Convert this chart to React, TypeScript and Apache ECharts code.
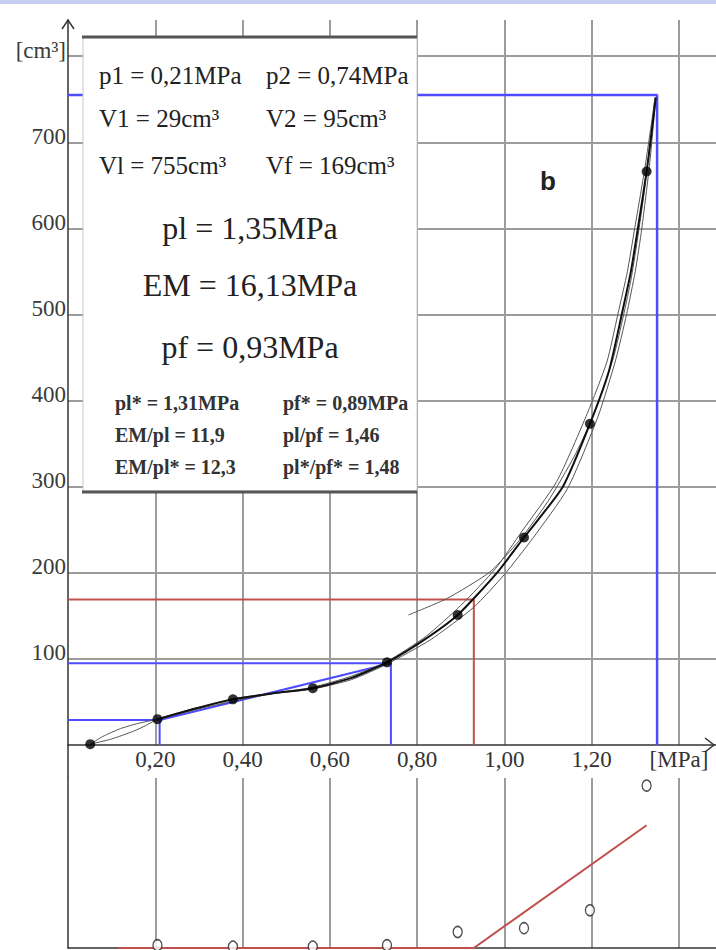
import React, { useEffect, useRef } from "react";
import * as echarts from "echarts";

// ---- Measured pressuremeter data ----
const pressures = [0.051, 0.205, 0.378, 0.561, 0.731, 0.893, 1.045, 1.196, 1.326];
const volumes = [1, 30, 53, 66, 96, 151, 241, 373, 666];

// creep (V60 - V30) for each step from the 2nd point on
const creepPressures = [0.205, 0.378, 0.561, 0.731, 0.893, 1.045, 1.196, 1.326];
const creepValues = [0.3, 0.15, 0.15, 0.3, 1.7, 2.1, 4.0, 17.2];
const creepFit = [[0.115, 0], [0.93, 0], [1.326, 13.0]];

// fitted curves
const mainCurve = [[0.205, 30], [0.29, 42], [0.378, 53], [0.47, 60], [0.561, 66], [0.65, 78], [0.731, 96], [0.81, 120], [0.893, 151], [0.983, 200], [1.045, 241], [1.134, 300], [1.196, 373], [1.24, 435], [1.269, 500], [1.29, 550], [1.306, 600], [1.326, 666], [1.336, 705], [1.347, 752]];
const fitA = [[0.051, 1], [0.08, 10], [0.12, 19], [0.16, 25], [0.205, 30], [0.3, 42], [0.38, 51], [0.47, 60], [0.56, 67], [0.65, 80], [0.731, 97], [0.82, 126], [0.9, 162], [0.98, 205], [1.04, 248], [1.12, 306], [1.19, 385], [1.235, 445], [1.26, 500], [1.282, 550], [1.298, 598], [1.322, 670], [1.345, 750]];
const fitB = [[0.051, 1], [0.1, 7], [0.15, 16], [0.18, 23], [0.205, 30], [0.3, 44], [0.38, 54], [0.47, 60], [0.56, 65], [0.65, 76], [0.731, 94], [0.83, 122], [0.93, 160], [1.0, 198], [1.065, 240], [1.145, 298], [1.215, 382], [1.255, 447], [1.28, 500], [1.3, 550], [1.315, 600], [1.333, 675], [1.347, 752]];
const tangentCurve = [[0.78, 151], [0.868, 170], [0.967, 201], [1.035, 238], [1.1, 283], [1.16, 335], [1.2, 378], [1.25, 450], [1.29, 540], [1.32, 640], [1.345, 752]];

// characteristic values
const p1 = 0.21, p2 = 0.74, V1 = 29, V2 = 95, Vl = 755, Vf = 169, pl = 1.35, pf = 0.93;

// box texts
const topRowsLeft = ["p1 = 0,21MPa", "V1 = 29cm³", "Vl = 755cm³"];
const topRowsRight = ["p2 = 0,74MPa", "V2 = 95cm³", "Vf = 169cm³"];
const bigRows = ["pl = 1,35MPa", "EM = 16,13MPa", "pf = 0,93MPa"];
const smallRowsLeft = ["pl* = 1,31MPa", "EM/pl = 11,9", "EM/pl* = 12,3"];
const smallRowsRight = ["pf* = 0,89MPa", "pl/pf = 1,46", "pl*/pf* = 1,48"];

const SERIF = "'Liberation Serif', 'Times New Roman', serif";
const GRID_COLOR = "#9c9c9c";
const AXIS_COLOR = "#333";
const BLUE = "#4d4dff";
const RED = "#c0504d";

export default function App() {
  const ref = useRef<HTMLDivElement>(null);
  useEffect(() => {
    if (!ref.current) return;
    const chart = echarts.init(ref.current, undefined, { renderer: "svg" });

    const xLabel = (v: number) => {
      const k = Math.round(v / 0.2);
      if (Math.abs(v - k * 0.2) > 1e-6 || k === 0) return "";
      if (k === 7) return "[MPa]";
      return (k * 0.2).toFixed(2).replace(".", ",");
    };
    const yLabel = (v: number) => {
      if (v === 0 || Math.abs(v % 100) > 1e-6) return "";
      if (v === 800) return "[cm³]";
      return String(v);
    };

    const graphics: any[] = [
      { type: "rect", shape: { x: 0, y: 0, width: 716, height: 4 }, style: { fill: "#c6cdf0" }, z: 200 },
      // axis arrows
      { type: "polyline", shape: { points: [[62, 29], [68, 20], [74, 29]] }, style: { stroke: AXIS_COLOR, lineWidth: 1.5, fill: null }, z: 50 },
      { type: "polyline", shape: { points: [[705, 738], [714, 745], [705, 752]] }, style: { stroke: AXIS_COLOR, lineWidth: 1.5, fill: null }, z: 50 },
      { type: "line", shape: { x1: 68, y1: 745, x2: 68, y2: 778 }, style: { stroke: AXIS_COLOR, lineWidth: 1.5 }, z: 50 },
      // info box
      { type: "rect", shape: { x: 83, y: 37, width: 334, height: 454 }, style: { fill: "#fff", stroke: "#c8c8c8", lineWidth: 1 }, z: 100 },
      { type: "line", shape: { x1: 82, y1: 37, x2: 417, y2: 37 }, style: { stroke: "#555", lineWidth: 3 }, z: 101 },
      { type: "line", shape: { x1: 82, y1: 492, x2: 417, y2: 492 }, style: { stroke: "#555", lineWidth: 3 }, z: 101 },
      { type: "text", x: 548, y: 181, style: { text: "b", font: "bold 26px 'Liberation Sans', Arial, sans-serif", fill: "#222", align: "center", verticalAlign: "middle" }, z: 60 },
    ];
    const topY = [75, 118, 165];
    topRowsLeft.forEach((t, i) => graphics.push({ type: "text", x: 99, y: topY[i], style: { text: t, font: `25px ${SERIF}`, fill: "#222", align: "left", verticalAlign: "middle" }, z: 102 }));
    topRowsRight.forEach((t, i) => graphics.push({ type: "text", x: 266, y: topY[i], style: { text: t, font: `25px ${SERIF}`, fill: "#222", align: "left", verticalAlign: "middle" }, z: 102 }));
    const bigY = [228, 285, 347];
    bigRows.forEach((t, i) => graphics.push({ type: "text", x: 250, y: bigY[i], style: { text: t, font: `32px ${SERIF}`, fill: "#222", align: "center", verticalAlign: "middle" }, z: 102 }));
    const smallY = [403, 435, 467];
    smallRowsLeft.forEach((t, i) => graphics.push({ type: "text", x: 115, y: smallY[i], style: { text: t, font: `bold 20px ${SERIF}`, fill: "#333", align: "left", verticalAlign: "middle" }, z: 102 }));
    smallRowsRight.forEach((t, i) => graphics.push({ type: "text", x: 283, y: smallY[i], style: { text: t, font: `bold 20px ${SERIF}`, fill: "#333", align: "left", verticalAlign: "middle" }, z: 102 }));

    const thin = (data: number[][]) => ({
      type: "line", xAxisIndex: 0, yAxisIndex: 0, data, smooth: 0.2, showSymbol: false,
      lineStyle: { color: "#555", width: 1 }, z: 3, silent: true,
    });
    const straight = (data: number[][], color: string, width: number) => ({
      type: "line", xAxisIndex: 0, yAxisIndex: 0, data, showSymbol: false,
      lineStyle: { color, width }, z: 2, silent: true,
    });

    chart.setOption({
      animation: false,
      backgroundColor: "#fff",
      grid: [
        { left: 68, top: 20, width: 648, height: 725 },
        { left: 68, top: 778, width: 648, height: 170 },
      ],
      xAxis: [
        {
          gridIndex: 0, type: "value", min: 0, max: 1.485, interval: 0.2,
          axisLine: { show: true, onZero: true, lineStyle: { color: AXIS_COLOR, width: 1.5 } },
          axisTick: { show: false },
          axisLabel: { formatter: xLabel, fontFamily: SERIF, fontSize: 23, color: "#333", margin: 3, showMaxLabel: false },
          splitLine: { show: true, showMinLine: false, showMaxLine: false, lineStyle: { color: GRID_COLOR, width: 2 } },
        },
        {
          gridIndex: 1, type: "value", min: 0, max: 1.485, interval: 0.2,
          axisLine: { show: true, onZero: true, lineStyle: { color: AXIS_COLOR, width: 1.5 } },
          axisTick: { show: false },
          axisLabel: { show: false },
          splitLine: { show: true, showMinLine: false, showMaxLine: false, lineStyle: { color: GRID_COLOR, width: 2 } },
        },
      ],
      yAxis: [
        {
          gridIndex: 0, type: "value", min: 0, max: 842, interval: 100,
          axisLine: { show: true, lineStyle: { color: AXIS_COLOR, width: 1.5 } },
          axisTick: { show: false },
          axisLabel: { formatter: yLabel, fontFamily: SERIF, fontSize: 23, color: "#3a3a3a", margin: 2, verticalAlign: "bottom", lineHeight: 12, showMaxLabel: false },
          splitLine: { show: true, showMinLine: false, showMaxLine: false, lineStyle: { color: GRID_COLOR, width: 2 } },
        },
        {
          gridIndex: 1, type: "value", min: 0, max: 18,
          axisLine: { show: true, lineStyle: { color: AXIS_COLOR, width: 1.5 } },
          axisTick: { show: false }, axisLabel: { show: false }, splitLine: { show: false },
        },
      ],
      graphic: graphics,
      series: [
        straight([[0, Vl], [pl, Vl], [pl, 0]], BLUE, 2.5),
        straight([[0, V2], [p2, V2], [p2, 0]], BLUE, 2),
        straight([[0, V1], [p1, V1], [p1, 0]], BLUE, 2),
        straight([[0, Vf], [pf, Vf], [pf, 0]], RED, 2),
        straight([[p1, V1], [p2, V2]], BLUE, 2.2),
        thin(fitA),
        thin(fitB),
        thin(tangentCurve),
        {
          type: "line", xAxisIndex: 0, yAxisIndex: 0, data: mainCurve, smooth: 0.2, showSymbol: false,
          lineStyle: { color: "#111", width: 2 }, z: 4, silent: true,
        },
        {
          type: "scatter", xAxisIndex: 0, yAxisIndex: 0, data: pressures.map((p, i) => [p, volumes[i]]),
          symbol: "circle", symbolSize: 10, itemStyle: { color: "#000" }, z: 6, silent: true,
        },
        {
          type: "line", xAxisIndex: 1, yAxisIndex: 1, data: creepFit, showSymbol: false,
          lineStyle: { color: RED, width: 2 }, z: 3, silent: true,
        },
        {
          type: "scatter", xAxisIndex: 1, yAxisIndex: 1, data: creepPressures.map((p, i) => [p, creepValues[i]]),
          symbol: "circle", symbolSize: [9, 11], itemStyle: { color: "#fff", borderColor: "#222", borderWidth: 1.4 }, z: 6, silent: true,
        },
      ],
    });
    return () => chart.dispose();
  }, []);
  return <div ref={ref} style={{ position: "absolute", left: 0, top: 0, width: 716, height: 950 }} />;
}
